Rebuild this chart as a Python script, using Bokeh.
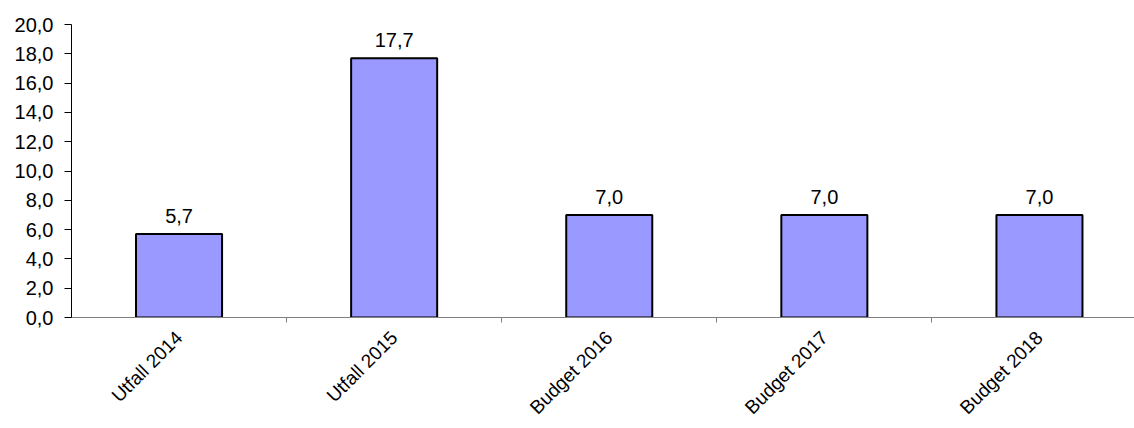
from bokeh.plotting import figure
from bokeh.models import FixedTicker, ColumnDataSource, Range1d
from bokeh.core.properties import value
from bokeh.embed import file_html
from bokeh.resources import INLINE
import math

categories = ["Utfall 2014", "Utfall 2015", "Budget 2016", "Budget 2017", "Budget 2018"]
values = [5.7, 17.7, 7.0, 7.0, 7.0]
y_ticks = [0, 2, 4, 6, 8, 10, 12, 14, 16, 18, 20]

FONT = "Liberation Sans"
FS = "20px"

xs = [i + 0.5 for i in range(len(categories))]
labels = [f"{v:.1f}".replace(".", ",") for v in values]
src = ColumnDataSource(dict(x=xs, top=values, label=labels))

W, H = 1134, 428
left, top, bottom = 71, 24, 110
cat_px = 215.1
x_end = (W - left) / cat_px

p = figure(width=W, height=H, output_backend="svg", toolbar_location=None,
           x_range=Range1d(0, x_end), y_range=Range1d(0, 20),
           min_border_left=left, min_border_right=0, min_border_top=top,
           min_border_bottom=bottom)
p.outline_line_color = None
p.xgrid.visible = False
p.ygrid.visible = False
p.background_fill_color = "white"
p.border_fill_color = "white"

p.vbar(x="x", top="top", width=0.4, bottom=0, source=src,
       fill_color="#9999FF", line_color="black", line_width=2)

p.text(x="x", y="top", text="label", source=src, text_align="center",
       text_baseline="alphabetic", y_offset=-18,
       text_font=value(FONT), text_font_size=FS, text_color="black")

# y axis
p.yaxis.ticker = FixedTicker(ticks=y_ticks)
p.yaxis.major_label_overrides = {t: f"{t:.1f}".replace(".", ",") for t in y_ticks}
p.yaxis.minor_tick_line_color = None
p.yaxis.major_tick_out = 7
p.yaxis.major_tick_in = 0
p.yaxis.major_label_standoff = 11
p.yaxis.axis_line_color = "black"
p.yaxis.major_tick_line_color = "black"
p.yaxis.major_label_text_font = FONT
p.yaxis.major_label_text_font_size = FS
p.yaxis.major_label_text_color = "black"

# x axis
p.xaxis.ticker = FixedTicker(ticks=xs, minor_ticks=[1, 2, 3, 4])
p.xaxis.major_label_overrides = {x: c for x, c in zip(xs, categories)}
p.xaxis.major_tick_line_color = None
p.xaxis.major_tick_out = 0
p.xaxis.major_tick_in = 0
p.xaxis.minor_tick_out = 5
p.xaxis.minor_tick_in = 0
p.xaxis.minor_tick_line_color = "#808080"
p.xaxis.axis_line_color = "#808080"
p.xaxis.major_label_orientation = math.pi / 4
p.xaxis.major_label_standoff = 12
p.xaxis.major_label_text_font = FONT
p.xaxis.major_label_text_font_size = "19px"
p.xaxis.major_label_text_color = "black"

open("out.html", "w").write(file_html(p, INLINE))
